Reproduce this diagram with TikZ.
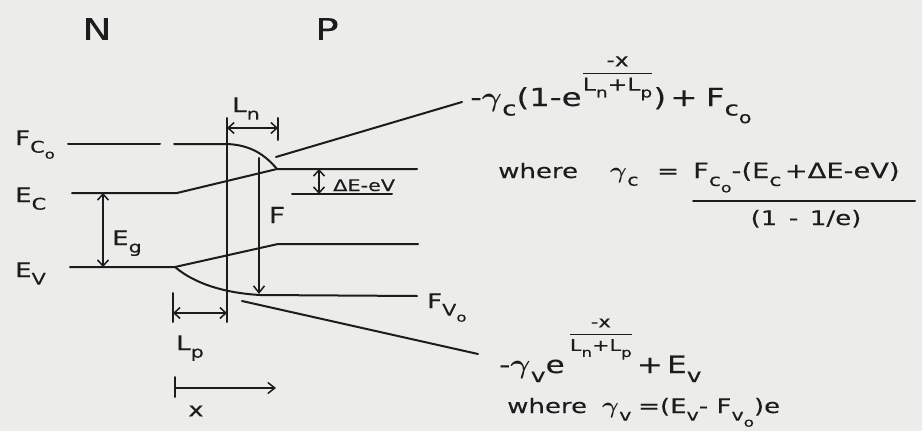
\documentclass[tikz,border=0pt]{standalone}
\usepackage{fontspec}
\usepackage{amsmath}
\usepackage{graphicx}
\setmainfont[FakeStretch=1.3,FakeBold=0.2]{DejaVu Sans}
\usetikzlibrary{arrows.meta}
\definecolor{paper}{RGB}{236,236,234}
\definecolor{ink}{RGB}{28,28,28}
\newcommand{\sub}[1]{\raisebox{-0.38em}{\scalebox{0.8}{#1}}}
\newcommand{\gam}{\scalebox{1.25}[1.1]{$\boldsymbol{\gamma}$}}
\newcommand{\expo}[2]{\raisebox{#1}{\fontsize{#2}{#2}\selectfont$\genfrac{}{}{1.1pt}{0}{\text{-x}}{\text{L\sub{n}+L\sub{p}}}$}}
\tikzset{
  band/.style={line width=2pt, line cap=round, ink},
  dimtip/.style={{Straight Barb[length=6pt,width=11pt,line width=1.5pt]}-{Straight Barb[length=6pt,width=11pt,line width=1.5pt]}},
  onetip/.style={-{Straight Barb[length=7pt,width=11pt,line width=1.5pt]}},
  lab/.style={inner sep=0pt, text=ink, font=\fontsize{20}{24}\selectfont},
  big/.style={inner sep=0pt, text=ink, font=\fontsize{30}{36}\selectfont},
}
\begin{document}
\begin{tikzpicture}[x=1pt,y=-1pt]
\useasboundingbox (0,0) rectangle (922,431);
\fill[paper] (0,0) rectangle (922,431);

% region labels
\node[big] (N) at (97,29) {N};
\node[big] (P) at (327,29) {P};

% left level labels
\node[lab, anchor=base west] (lFc) at (15,145) {F\sub{C\sub{o}}};
\node[lab, anchor=base west] (lEc) at (15,202) {E\sub{C}};
\node[lab, anchor=base west] (lEv) at (15,277) {E\sub{V}};

% coordinates
\coordinate (fc1) at (68,144);  \coordinate (fc2) at (160,144);
\coordinate (fc3) at (174,144); \coordinate (fc4) at (227,144);
\coordinate (knee) at (277,169);
\coordinate (ec1) at (72,193);  \coordinate (ec2) at (177,193);
\coordinate (ec3) at (417,169);
\coordinate (ev1) at (70,267);  \coordinate (ev2) at (175,267);
\coordinate (ev3) at (278,244); \coordinate (ev4) at (418,244);
\coordinate (fv1) at (260,295); \coordinate (fv2) at (417,296);
\coordinate (up1) at (276,157); \coordinate (up2) at (462,102);
\coordinate (lo1) at (242,301); \coordinate (lo2) at (478,354);

% Fermi level (conduction) with gap and bending
\draw[band] (fc1) -- (fc2);
\draw[band] (fc3) -- (fc4) .. controls (252,145) and (266,156) .. (knee);
% conduction band
\draw[band] (ec1) -- (ec2) -- (knee) -- (ec3);
% delta E - eV
\coordinate (de1) at (292,194); \coordinate (de2) at (392,194);
\draw[band] (de1) -- (de2);
\coordinate (dea) at (319,169); \coordinate (deb) at (319,194);
\draw[band, dimtip] (dea) -- (deb);
\node[lab, anchor=base west, font=\fontsize{16}{20}\selectfont] (lde) at (333,191) {ΔE-eV};
% valence band
\draw[band] (ev1) -- (ev2) -- (ev3) -- (ev4);
\draw[band] (ev2) .. controls (195,284) and (225,293) .. (fv1) -- (fv2);
\node[lab, anchor=base west] (lFv) at (427,308) {F\sub{V\sub{o}}};
% asymptotic lines
\draw[band] (up1) -- (up2);
\draw[band] (lo1) -- (lo2);

% long vertical (junction)
\coordinate (j1) at (227,118); \coordinate (j2) at (227,322);
\draw[band] (j1) -- (j2);
% L_n
\coordinate (ln1) at (278,118); \coordinate (ln2) at (278,140);
\draw[band] (ln1) -- (ln2);
\coordinate (lna) at (227,128); \coordinate (lnb) at (278,128);
\draw[band, dimtip] (lna) -- (lnb);
\node[lab, anchor=base west] (lLn) at (232,112) {L\sub{n}};
% L_p
\coordinate (lp1) at (173,293); \coordinate (lp2) at (173,322);
\draw[band] (lp1) -- (lp2);
\coordinate (lpa) at (173,313); \coordinate (lpb) at (227,313);
\draw[band, dimtip] (lpa) -- (lpb);
\node[lab, anchor=base west] (lLp) at (176,350) {L\sub{p}};
% F arrow
\coordinate (fa) at (259,158); \coordinate (fb) at (259,294);
\draw[band, onetip] (fa) -- (fb);
\node[lab, font=\fontsize{22}{26}\selectfont] (lF) at (277,215) {F};
% E_g
\coordinate (ega) at (103,193); \coordinate (egb) at (103,267);
\draw[band, dimtip] (ega) -- (egb);
\node[lab, anchor=base west] (lEg) at (112,245) {E\sub{g}};
% x axis
\coordinate (xt1) at (175,377); \coordinate (xt2) at (175,397);
\draw[band] (xt1) -- (xt2);
\coordinate (xa) at (175,388); \coordinate (xb) at (276,388);
\draw[band, onetip] (xa) -- (xb);
\node[lab] (lx) at (196,411) {x};

% formulas
\node[lab, anchor=base west, font=\fontsize{25}{28}\selectfont] (f1) at (470,106)
  {-\gam\sub{c}(1-e\expo{28pt}{18})\,+\,\,F\sub{c\sub{o}}};

\node[lab, anchor=base west] (w1) at (498,178) {where};
\node[lab, anchor=base west] (g1) at (610,178) {\gam\sub{c}};
\node[lab, anchor=base west] (eq1) at (657,178) {=};
\node[lab, anchor=base west, font=\fontsize{21}{24}\selectfont] (num1) at (693,178)
  {F\sub{c\sub{o}}-(E\sub{c}\,+ΔE-eV)};
\coordinate (bar1) at (693,201); \coordinate (bar2) at (915,201);
\draw[band] (bar1) -- (bar2);
\node[lab, anchor=base] (den1) at (806,225) {(1\, - \,1/e)};

\node[lab, anchor=base west, font=\fontsize{24}{28}\selectfont] (f2) at (499,373)
  {-\gam\sub{v}e\hspace{4pt}\expo{34pt}{16}\,+\,E\sub{v}};
\node[lab, anchor=base west] (w2) at (507,413) {where};
\node[lab, anchor=base west] (g2) at (602,413) {\gam\sub{v}};
\node[lab, anchor=base west] (rhs2) at (638,413) {=(E\sub{v}- F\sub{v\sub{o}})e};
\end{tikzpicture}
\end{document}
